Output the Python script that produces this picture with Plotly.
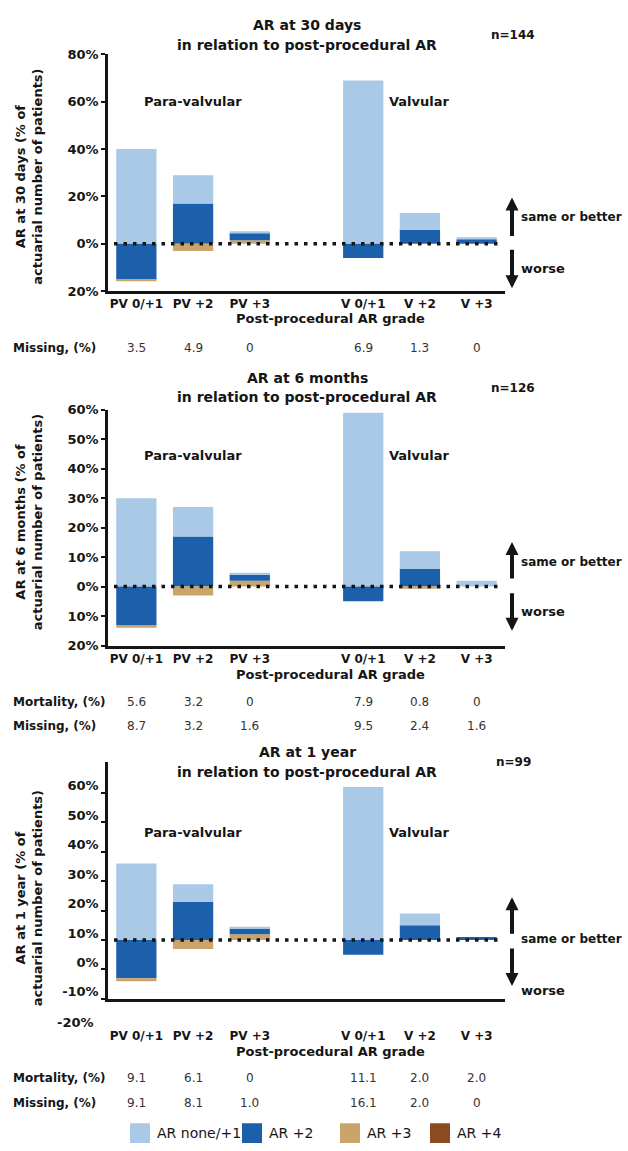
import plotly.graph_objects as go

# ---------------- data ----------------
categories = ["PV 0/+1", "PV +2", "PV +3", "V 0/+1", "V +2", "V +3"]
axis_slots = ["PV 0/+1", "PV +2", "PV +3", " ", "V 0/+1", "V +2", "V +3"]

# AR at 30 days (n=144) - % of actuarial number of patients
d30_none_better = [40, 12, 0.5, 69, 7, 0.5]
d30_ar2_better = [0, 17, 3, 0, 6, 2]
d30_ar3_better = [0, 0, 1.5, 0, 0, 0]
d30_ar2_worse = [-15, 0, 0, -6, 0, 0]
d30_ar3_worse = [-0.6, -3, 0, 0, 0, 0]
d30_missing = ["3.5", "4.9", "0", "6.9", "1.3", "0"]

# AR at 6 months (n=126)
m6_none_better = [30, 10, 0.7, 59, 6, 2]
m6_ar2_better = [0, 17, 2, 0, 6, 0]
m6_ar3_better = [0, 0, 2, 0, 0, 0]
m6_ar2_worse = [-13, 0, 0, -5, 0, 0]
m6_ar3_worse = [-1, -3, 0, 0, -0.7, 0]
m6_mortality = ["5.6", "3.2", "0", "7.9", "0.8", "0"]
m6_missing = ["8.7", "3.2", "1.6", "9.5", "2.4", "1.6"]

# AR at 1 year (n=99)
y1_none_better = [26, 6, 0.5, 52, 4, 0]
y1_ar2_better = [0, 13, 2, 0, 5, 1]
y1_ar3_better = [0, 0, 2, 0, 0, 0]
y1_ar2_worse = [-13, 0, 0, -5, 0, 0]
y1_ar3_worse = [-1, -3, 0, 0, 0, 0]
y1_mortality = ["9.1", "6.1", "0", "11.1", "2.0", "2.0"]
y1_missing = ["9.1", "8.1", "1.0", "16.1", "2.0", "0"]

tick_vals_30 = [-20, 0, 20, 40, 60, 80]
tick_text_30 = ["20%", "0%", "20%", "40%", "60%", "80%"]
tick_vals_6m = [-20, -10, 0, 10, 20, 30, 40, 50, 60]
tick_text_6m = ["20%", "10%", "0%", "10%", "20%", "30%", "40%", "50%", "60%"]
tick_vals_1y = [-20, -10, 0, 10, 20, 30, 40, 50]
tick_text_1y = ["-10%", "0%", "10%", "20%", "30%", "40%", "50%", "60%"]

legend_names = ["AR none/+1", "AR +2", "AR +3", "AR +4"]

# ---------------- style ----------------
W, H = 628, 1151
LIGHT = "#a9c9e6"
DARK = "#1c5fab"
TAN = "#c9a56c"
BROWN = "#8b4a1f"
INK = "#151515"
FONT = "DejaVu Sans"
BOLD = "DejaVu Sans"


def px(x):
    return x / W


def py(y):
    return 1 - y / H


fig = go.Figure()

panels = [
    dict(sfx="", yr="y", xr="x",
         data=[d30_ar3_better, d30_ar2_better, d30_none_better, d30_ar2_worse, d30_ar3_worse],
         top=48, bottom=288, rng=[-20, 80], tv=tick_vals_30, tt=tick_text_30, shift=0,
         title1="AR at 30 days", t1y=18, t2y=38, n="n=144", ny=28,
         ytitle="AR at 30 days (% of<br>actuarial number of patients)", yty=172,
         groupy=96, xtitle_y=316, standoff=None,
         rows=[("Missing, (%)", d30_missing, 346)],
         arrows=(193, 233, 245, 285), sob_y=213, worse_y=265),
    dict(sfx="2", yr="y2", xr="x2",
         data=[m6_ar3_better, m6_ar2_better, m6_none_better, m6_ar2_worse, m6_ar3_worse],
         top=408, bottom=647, rng=[-20, 60], tv=tick_vals_6m, tt=tick_text_6m, shift=0,
         title1="AR at 6 months", t1y=376, t2y=395, n="n=126", ny=386,
         ytitle="AR at 6 months (% of<br>actuarial number of patients)", yty=522,
         groupy=454, xtitle_y=676, standoff=None,
         rows=[("Mortality, (%)", m6_mortality, 704), ("Missing, (%)", m6_missing, 729)],
         arrows=(542, 580, 593, 632), sob_y=562, worse_y=612),
    dict(sfx="3", yr="y3", xr="x3",
         data=[y1_ar3_better, y1_ar2_better, y1_none_better, y1_ar2_worse, y1_ar3_worse],
         top=765, bottom=1005, rng=[-20, 60.5], tv=tick_vals_1y, tt=tick_text_1y, shift=-7,
         title1="AR at 1 year", t1y=755, t2y=775, n="n=99", ny=765,
         ytitle="AR at 1 year (% of<br>actuarial number of patients)", yty=903,
         groupy=836, xtitle_y=1058, standoff=24,
         rows=[("Mortality, (%)", y1_mortality, 1085), ("Missing, (%)", y1_missing, 1110)],
         arrows=(902, 940, 953, 992), sob_y=944, worse_y=996),
]

colors = [TAN, DARK, LIGHT, DARK, TAN]
names = ["AR +3", "AR +2", "AR none/+1", "AR +2", "AR +3"]

annotations = []
shapes = []
layout_axes = {}

for p in panels:
    for vals, col, nm in zip(p["data"], colors, names):
        fig.add_trace(go.Bar(
            x=categories, y=vals, name=nm, marker=dict(color=col, line=dict(width=0)),
            width=0.71, xaxis=p["xr"], yaxis=p["yr"], showlegend=False,
        ))
    xa = dict(
        domain=[px(108), px(505)], anchor=p["yr"], type="category",
        categoryorder="array", categoryarray=axis_slots, range=[-0.5, 6.5],
        showline=True, linecolor=INK, linewidth=2.5, ticks="", showgrid=False,
        zeroline=False, fixedrange=True,
        tickfont=dict(family=BOLD, size=12, color=INK, weight="bold"),
    )
    if p["standoff"]:
        xa["ticklabelstandoff"] = p["standoff"]
    ya = dict(
        domain=[py(p["bottom"]), py(p["top"])], anchor=p["xr"], range=p["rng"],
        tickvals=p["tv"], ticktext=p["tt"], showline=True, linecolor=INK, linewidth=2.5,
        ticks="outside", ticklen=4, tickwidth=2, tickcolor=INK, showgrid=False,
        zeroline=False, fixedrange=True,
        tickfont=dict(family=BOLD, size=13, color=INK, weight="bold"),
    )
    if p["shift"]:
        ya["ticklabelshift"] = p["shift"]
    layout_axes["xaxis" + p["sfx"]] = xa
    layout_axes["yaxis" + p["sfx"]] = ya

    bf = dict(family=BOLD, size=14, color=INK, weight="bold")
    annotations += [
        dict(text=p["title1"], x=px(307), y=py(p["t1y"]), font=bf),
        dict(text="in relation to post-procedural AR", x=px(307), y=py(p["t2y"]), font=bf),
        dict(text=p["n"], x=px(513), y=py(p["ny"]),
             font=dict(family=BOLD, size=12, color=INK, weight="bold")),
        dict(text=p["ytitle"], x=px(29), y=py(p["yty"]), textangle=-90,
             font=dict(family=BOLD, size=13, color=INK, weight="bold")),
        dict(text="Para-valvular", x="PV +2", xref=p["xr"], y=py(p["groupy"]),
             font=dict(family=BOLD, size=13, color=INK, weight="bold")),
        dict(text="Valvular", x="V +2", xref=p["xr"], y=py(p["groupy"]),
             font=dict(family=BOLD, size=13, color=INK, weight="bold")),
        dict(text="Post-procedural AR grade", x=px(330), y=py(p["xtitle_y"]),
             font=dict(family=BOLD, size=13, color=INK, weight="bold")),
        dict(text="same or better", x=px(519), y=py(p["sob_y"]), xanchor="left",
             font=dict(family=BOLD, size=12, color=INK, weight="bold")),
        dict(text="worse", x=px(519), y=py(p["worse_y"]), xanchor="left",
             font=dict(family=BOLD, size=13, color=INK, weight="bold")),
    ]
    for label, vals, yy in p["rows"]:
        annotations.append(dict(text=label, x=px(11), y=py(yy), xanchor="left",
                                font=dict(family=BOLD, size=12, color=INK, weight="bold")))
        for c, v in zip(categories, vals):
            annotations.append(dict(text=v, x=c, xref=p["xr"], y=py(yy),
                                    font=dict(family=FONT, size=12, color="#333")))
    up_tip, up_tail, dn_tail, dn_tip = p["arrows"]
    annotations += [
        dict(text="", x=px(512), y=py(up_tip), showarrow=True, ax=0, ay=up_tail - up_tip,
             axref="pixel", ayref="pixel", arrowhead=2, arrowsize=0.65, arrowwidth=4,
             arrowcolor=INK, standoff=0, startstandoff=0),
        dict(text="", x=px(512), y=py(dn_tip), showarrow=True, ax=0, ay=dn_tail - dn_tip,
             axref="pixel", ayref="pixel", arrowhead=2, arrowsize=0.65, arrowwidth=4,
             arrowcolor=INK, standoff=0, startstandoff=0),
    ]
    shapes.append(dict(type="line", xref="paper", yref=p["yr"], x0=px(114), x1=px(499),
                       y0=0, y1=0, layer="above",
                       line=dict(color=INK, width=3.5, dash="3.5px,6px")))

# -------- legend (drawn) --------
leg_cols = [LIGHT, DARK, TAN, BROWN]
leg_x = [130, 242, 340, 430]
for nm, col, lx in zip(legend_names, leg_cols, leg_x):
    shapes.append(dict(type="rect", xref="paper", yref="paper", x0=px(lx), x1=px(lx + 20),
                       y0=py(1151), y1=py(1131), fillcolor=col, line=dict(width=0)))
    annotations.append(dict(text=nm, x=px(lx + 25), y=py(1141), xanchor="left",
                            font=dict(family=FONT, size=14, color=INK)))

# "-20%" orphan label under the 1-year chart
annotations.append(dict(text="-20%", x=px(96), y=py(1029), xanchor="right",
                        font=dict(family=BOLD, size=13, color=INK, weight="bold")))

for a in annotations:
    a.setdefault("xref", "paper")
    a.setdefault("yref", "paper")
    a.setdefault("showarrow", False)
    a.setdefault("xanchor", "center")
    a.setdefault("yanchor", "middle")

fig.update_layout(
    width=W, height=H, margin=dict(l=0, r=0, t=0, b=0),
    paper_bgcolor="white", plot_bgcolor="rgba(0,0,0,0)",
    barmode="relative", showlegend=False,
    annotations=annotations, shapes=shapes,
    font=dict(family=FONT, color=INK),
    **layout_axes,
)

fig.write_html("out.html", config={"displayModeBar": False})
